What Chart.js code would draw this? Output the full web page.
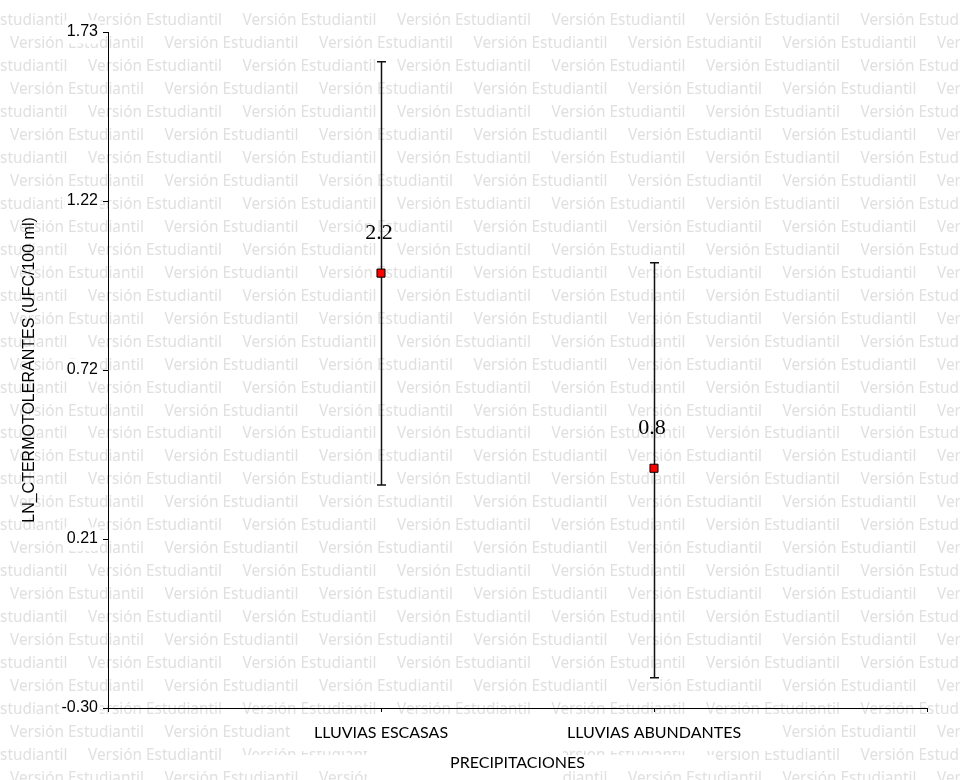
<!DOCTYPE html>
<html>
<head>
<meta charset="utf-8">
<script src="https://cdn.jsdelivr.net/npm/chart.js@4.4.1/dist/chart.umd.min.js"></script>
<style>
  html, body { margin: 0; padding: 0; background: #fff; }
  #wrap { width: 960px; height: 780px; position: relative; }
</style>
</head>
<body>
<div id="wrap"><canvas id="c" width="960" height="780"></canvas></div>
<script>
// Group means of ln(coliformes termotolerantes) with their confidence limits
const categories = ['LLUVIAS ESCASAS', 'LLUVIAS ABUNDANTES'];
const means = [1.006, 0.420];
const upperLimits = [1.641, 1.037];
const lowerLimits = [0.370, -0.209];
const valueLabels = ['2.2', '0.8'];
const yTickLabels = ['-0.30', '0.21', '0.72', '1.22', '1.73'];
const yMin = -0.30;
const yMax = 1.73;
const yTitle = 'LN_CTERMOTOLERANTES (UFC/100 ml)';
const xTitle = 'PRECIPITACIONES';
const watermarkText = 'Versión Estudiantil';

// blank slots at both ends put the two groups at 1/3 and 2/3 of the axis
const xLabels = [''].concat(categories, ['']);
const pad = v => [null].concat(v, [null]);

// tiled "student version" background text plus the white areas behind the x labels
const watermark = {
  id: 'watermark',
  beforeDraw(chart) {
    const ctx = chart.ctx;
    const W = chart.width, H = chart.height;
    ctx.save();
    ctx.fillStyle = '#ffffff';
    ctx.fillRect(0, 0, W, H);
    ctx.font = '15px "Noto Sans"';
    const w0 = ctx.measureText(watermarkText).width;
    const size = 15 * 134 / w0;
    ctx.font = size.toFixed(2) + 'px "Noto Sans"';
    ctx.fillStyle = '#e0e0e0';
    ctx.textBaseline = 'middle';
    ctx.textAlign = 'left';
    const period = 154.5, rowGap = 22.95;
    for (let r = 0; r < 36; r++) {
      const y = 21 + r * rowGap;
      const start = (r % 2 === 0) ? 88 - period : 10;
      for (let x = start; x < W; x += period) ctx.fillText(watermarkText, x, y);
    }
    const a = chart.chartArea;
    ctx.fillStyle = '#ffffff';
    ctx.fillRect(290, a.bottom + 13, 492, 30);
    ctx.fillRect(245, a.bottom + 47, 468, 12);
    ctx.fillRect(367, a.bottom + 43, 196, H - a.bottom - 43);
    ctx.restore();
  }
};

// vertical error bars with caps, drawn beneath the markers
const errorBars = {
  id: 'errorBars',
  beforeDatasetsDraw(chart) {
    const ctx = chart.ctx;
    const xs = chart.scales.x, ys = chart.scales.y;
    ctx.save();
    ctx.strokeStyle = '#111';
    ctx.lineWidth = 1.5;
    categories.forEach((c, i) => {
      const x = Math.round(xs.getPixelForValue(i + 1)) + 0.5;
      const yt = ys.getPixelForValue(upperLimits[i]);
      const yb = ys.getPixelForValue(lowerLimits[i]);
      ctx.beginPath();
      ctx.moveTo(x, yt); ctx.lineTo(x, yb);
      ctx.moveTo(x - 4.5, yt); ctx.lineTo(x + 4.5, yt);
      ctx.moveTo(x - 4.5, yb); ctx.lineTo(x + 4.5, yb);
      ctx.stroke();
    });
    ctx.restore();
  },
  afterDatasetsDraw(chart) {
    const ctx = chart.ctx;
    const xs = chart.scales.x, ys = chart.scales.y;
    ctx.save();
    ctx.fillStyle = '#000';
    ctx.font = '22px "Liberation Serif"';
    ctx.textAlign = 'center';
    ctx.textBaseline = 'alphabetic';
    valueLabels.forEach((t, i) => {
      const x = xs.getPixelForValue(i + 1);
      const y = ys.getPixelForValue(means[i]);
      ctx.fillText(t, x - 2, y - 34);
    });
    ctx.restore();
  }
};

new Chart(document.getElementById('c'), {
  type: 'line',
  data: {
    labels: xLabels,
    datasets: [{
      data: pad(means),
      showLine: false,
      pointStyle: 'rect',
      pointRadius: 5.7,
      pointHoverRadius: 5.7,
      pointBackgroundColor: '#ff0000',
      pointBorderColor: '#000000',
      pointBorderWidth: 1
    }]
  },
  options: {
    responsive: false,
    animation: false,
    events: [],
    layout: { padding: { left: 0, top: 32, right: 33, bottom: 0 } },
    plugins: { legend: { display: false }, tooltip: { enabled: false } },
    scales: {
      x: {
        type: 'category',
        offset: false,
        grid: { display: true, drawOnChartArea: false, drawTicks: true, tickLength: 4, color: '#000', lineWidth: 1 },
        border: { display: true, color: '#000', width: 1 },
        ticks: {
          autoSkip: false, maxRotation: 0, padding: 11,
          color: '#000', font: { family: 'Lato', size: 16 }
        },
        title: {
          display: true, text: xTitle, color: '#000',
          font: { family: 'Lato', size: 16 }, padding: { top: 0, bottom: 8 }
        },
        afterFit(s) { s.height = 72; }
      },
      y: {
        type: 'linear',
        min: yMin, max: yMax,
        afterBuildTicks(s) {
          const n = yTickLabels.length - 1;
          s.ticks = yTickLabels.map((t, i) => ({ value: yMin + (yMax - yMin) * i / n }));
        },
        grid: { display: true, drawOnChartArea: false, drawTicks: true, tickLength: 5, color: '#000', lineWidth: 1 },
        border: { display: true, color: '#000', width: 1 },
        ticks: {
          padding: 5, color: '#000',
          font: { family: 'Liberation Sans', size: 16 },
          showLabelBackdrop: true, backdropColor: '#ffffff', backdropPadding: 2,
          callback: (v, i) => yTickLabels[i]
        },
        title: {
          display: true, text: yTitle, color: '#000',
          font: { family: 'Liberation Sans', size: 16 }, padding: { top: 20, bottom: 0 }
        },
        afterFit(s) { s.width = 108; }
      }
    }
  },
  plugins: [watermark, errorBars]
});
</script>
</body>
</html>
